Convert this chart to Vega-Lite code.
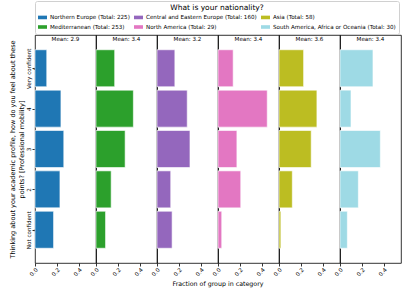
{
  "$schema": "https://vega.github.io/schema/vega-lite/v6.json",
  "padding": {"left": 9, "top": 0, "right": 2, "bottom": 0},
  "spacing": 0,
  "bounds": "flush",
  "config": {
    "font": "DejaVu Sans",
    "view": {"stroke": "#000000", "strokeWidth": 0.8},
    "axis": {"grid": false, "domain": false, "tickColor": "#000", "labelColor": "#000", "titleColor": "#000", "labelFont": "DejaVu Sans", "titleFont": "DejaVu Sans", "titleFontWeight": "normal", "tickWidth": 0.8}
  },
  "data": {"values": [
    {"nat": "Northern Europe (Total: 225)", "level": 1, "frac": 0.169},
    {"nat": "Northern Europe (Total: 225)", "level": 2, "frac": 0.227},
    {"nat": "Northern Europe (Total: 225)", "level": 3, "frac": 0.262},
    {"nat": "Northern Europe (Total: 225)", "level": 4, "frac": 0.236},
    {"nat": "Northern Europe (Total: 225)", "level": 5, "frac": 0.107},
    {"nat": "Mediterranean (Total: 253)", "level": 1, "frac": 0.087},
    {"nat": "Mediterranean (Total: 253)", "level": 2, "frac": 0.138},
    {"nat": "Mediterranean (Total: 253)", "level": 3, "frac": 0.265},
    {"nat": "Mediterranean (Total: 253)", "level": 4, "frac": 0.340},
    {"nat": "Mediterranean (Total: 253)", "level": 5, "frac": 0.170},
    {"nat": "Central and Eastern Europe (Total: 160)", "level": 1, "frac": 0.1375},
    {"nat": "Central and Eastern Europe (Total: 160)", "level": 2, "frac": 0.125},
    {"nat": "Central and Eastern Europe (Total: 160)", "level": 3, "frac": 0.300},
    {"nat": "Central and Eastern Europe (Total: 160)", "level": 4, "frac": 0.275},
    {"nat": "Central and Eastern Europe (Total: 160)", "level": 5, "frac": 0.1625},
    {"nat": "North America (Total: 29)", "level": 1, "frac": 0.034},
    {"nat": "North America (Total: 29)", "level": 2, "frac": 0.207},
    {"nat": "North America (Total: 29)", "level": 3, "frac": 0.172},
    {"nat": "North America (Total: 29)", "level": 4, "frac": 0.448},
    {"nat": "North America (Total: 29)", "level": 5, "frac": 0.138},
    {"nat": "Asia (Total: 58)", "level": 1, "frac": 0.017},
    {"nat": "Asia (Total: 58)", "level": 2, "frac": 0.121},
    {"nat": "Asia (Total: 58)", "level": 3, "frac": 0.293},
    {"nat": "Asia (Total: 58)", "level": 4, "frac": 0.345},
    {"nat": "Asia (Total: 58)", "level": 5, "frac": 0.224},
    {"nat": "South America, Africa or Oceania (Total: 30)", "level": 1, "frac": 0.067},
    {"nat": "South America, Africa or Oceania (Total: 30)", "level": 2, "frac": 0.167},
    {"nat": "South America, Africa or Oceania (Total: 30)", "level": 3, "frac": 0.367},
    {"nat": "South America, Africa or Oceania (Total: 30)", "level": 4, "frac": 0.100},
    {"nat": "South America, Africa or Oceania (Total: 30)", "level": 5, "frac": 0.300}
  ]},
  "facet": {
    "column": {
      "field": "nat",
      "type": "nominal",
      "sort": ["Northern Europe (Total: 225)", "Mediterranean (Total: 253)", "Central and Eastern Europe (Total: 160)", "North America (Total: 29)", "Asia (Total: 58)", "South America, Africa or Oceania (Total: 30)"],
      "header": {
        "title": "Fraction of group in category",
        "titleOrient": "bottom",
        "titleFontSize": 6.3,
        "titleFontWeight": "normal",
        "titlePadding": -7,
        "labelOrient": "top",
        "labelFontSize": 5.6,
        "labelPadding": -8,
        "labelExpr": "datum.value == 'Northern Europe (Total: 225)' ? 'Mean: 2.9' : datum.value == 'Central and Eastern Europe (Total: 160)' ? 'Mean: 3.2' : datum.value == 'Asia (Total: 58)' ? 'Mean: 3.6' : 'Mean: 3.4'"
      }
    }
  },
  "spec": {
    "width": 61,
    "height": 228,
    "mark": {"type": "bar", "orient": "horizontal", "size": 37, "stroke": "white", "strokeWidth": 0.6},
    "encoding": {
      "y": {
        "field": "level", "type": "quantitative",
        "scale": {"domain": [0.3, 5.7], "nice": false, "zero": false},
        "axis": {
          "values": [1, 2, 3, 4, 5],
          "title": ["Thinking about your academic profile, how do you feel about these", "points? [Professional mobility]"],
          "titleFontSize": 6.5,
          "titlePadding": 2,
          "labelFontSize": 5.6,
          "labelAngle": -90,
          "labelPadding": 1,
          "tickSize": 3,
          "labelExpr": "datum.value == 1 ? ['Not confident', '1'] : datum.value == 5 ? ['Very confident', '5'] : datum.label"
        }
      },
      "x": {
        "field": "frac", "type": "quantitative",
        "scale": {"domain": [0, 0.555], "nice": false},
        "axis": {"values": [0, 0.2, 0.4], "format": ".1f", "title": null, "labelAngle": -45, "labelFontSize": 5.6, "tickSize": 3, "labelPadding": 1}
      },
      "color": {
        "field": "nat", "type": "nominal",
        "scale": {
          "domain": ["Northern Europe (Total: 225)", "Central and Eastern Europe (Total: 160)", "Asia (Total: 58)", "Mediterranean (Total: 253)", "North America (Total: 29)", "South America, Africa or Oceania (Total: 30)"],
          "range": ["#1f77b4", "#9467bd", "#bcbd22", "#2ca02c", "#e377c2", "#9edae5"]
        },
        "legend": {
          "orient": "top",
          "offset": 0,
          "title": "What is your nationality?",
          "titleFontSize": 7.5,
          "titleFontWeight": "normal",
          "titleAnchor": "middle",
          "titleColor": "#000",
          "titlePadding": 1,
          "columns": 3,
          "columnPadding": 4,
          "rowPadding": 1,
          "labelFontSize": 5.6,
          "labelOffset": 3,
          "labelColor": "#000",
          "labelLimit": 200,
          "symbolType": "M-1,-0.4L1,-0.4L1,0.4L-1,0.4Z",
          "symbolSize": 81,
          "symbolStrokeWidth": 0,
          "strokeColor": "#d0d0d0",
          "cornerRadius": 2,
          "padding": 3
        }
      }
    }
  }
}
